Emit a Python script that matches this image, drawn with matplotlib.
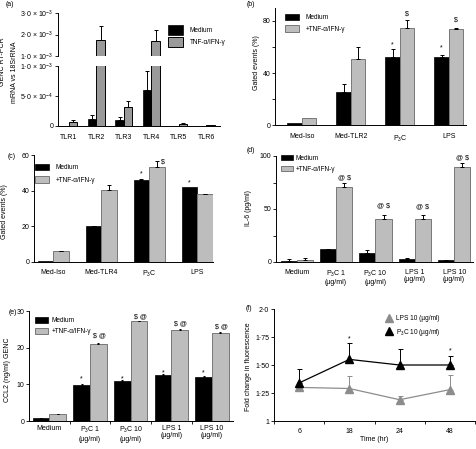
import matplotlib
matplotlib.use("Agg")
import matplotlib.pyplot as plt
import numpy as np
from matplotlib.patches import Patch
from matplotlib.lines import Line2D

plt.rcParams["font.family"] = ["Liberation Sans", "DejaVu Sans"]
plt.rcParams["mathtext.fontset"] = "custom"
plt.rcParams["mathtext.rm"] = "Liberation Sans"
plt.rcParams["mathtext.it"] = "Liberation Sans:italic"
plt.rcParams["font.size"] = 5
plt.rcParams["axes.linewidth"] = 0.7

# ---- (a) TLR mRNA ----
tlr_labels = ["TLR1", "TLR2", "TLR3", "TLR4", "TLR5", "TLR6"]
a_medium = [0.5e-5, 1.1e-4, 0.95e-4, 6.0e-4, 0.2e-5, 0.2e-5]
a_medium_err = [0, 0.8e-4, 0.55e-4, 3.1e-4, 0, 0]
a_tnf = [6.0e-5, 1.75e-3, 3.1e-4, 1.7e-3, 3.8e-5, 1.5e-5]
a_tnf_err = [4.0e-5, 0.64e-3, 1.0e-4, 0.52e-3, 1.7e-5, 0]

# ---- (b) TLR2 flow ----
b_cats = ["Med-Iso", "Med-TLR2", "P$_3$C", "LPS"]
b_medium = [1.8, 25.3, 52, 52]
b_medium_err = [0, 6.4, 6.2, 1.8]
b_tnf = [5.1, 50.4, 74.3, 73.8]
b_tnf_err = [0, 9.9, 6.2, 0.5]

# ---- (c) TLR4 flow ----
c_cats = ["Med-Iso", "Med-TLR4", "P$_3$C", "LPS"]
c_medium = [0.8, 20, 46, 41.8]
c_medium_err = [0, 0.3, 0.5, 0]
c_tnf = [6, 40.3, 53, 38]
c_tnf_err = [0.3, 2.8, 3.6, 0.4]

# ---- (d) IL-6 ----
dose_cats = ["Medium", "P$_3$C 1\n(µg/ml)", "P$_3$C 10\n(µg/ml)",
             "LPS 1\n(µg/ml)", "LPS 10\n(µg/ml)"]
d_medium = [0.6, 12, 8.8, 2.5, 1.6]
d_medium_err = [2.4, 0.5, 2.2, 1.3, 0.6]
d_tnf = [1.6, 71, 41, 41, 89.3]
d_tnf_err = [2.4, 4, 3, 3.8, 3.7]

# ---- (e) CCL2 ----
e_medium = [0.8, 9.7, 11, 12.5, 12.1]
e_medium_err = [0.1, 0.3, 0.3, 0.3, 0.3]
e_tnf = [1.8, 20.9, 27.2, 24.7, 24.1]
e_tnf_err = [0.2, 0.4, 0.2, 0.3, 0.3]

# ---- (f) time course ----
f_times = ["6", "18", "24", "48"]
f_lps = [1.30, 1.29, 1.19, 1.28]
f_lps_err = [0.05, 0.11, 0.03, 0.13]
f_p3c = [1.34, 1.55, 1.50, 1.50]
f_p3c_err = [0.12, 0.15, 0.14, 0.08]

W, H = 476, 449
fig = plt.figure(figsize=(W / 100, H / 100), dpi=100)

LIGHT = "#bdbdbd"
LIGHT_EDGE = "#777777"
LEG_FS = 4.7


def px_axes(x0, y0, x1, y1):
    return fig.add_axes([x0 / W, 1 - y1 / H, (x1 - x0) / W, (y1 - y0) / H])


def style(ax):
    ax.spines[["top", "right"]].set_visible(False)
    ax.tick_params(length=2, width=0.6, pad=1.5, labelsize=5)


def up_err(ax, x, y, err, color="black", cap=1.5):
    x, y, err = np.asarray(x), np.asarray(y), np.asarray(err)
    keep = err > 0
    ax.errorbar(x[keep], y[keep], yerr=[np.zeros(keep.sum()), err[keep]],
                fmt="none", ecolor=color, elinewidth=0.7, capsize=cap, capthick=0.7)


def grouped_bars(ax, medium, medium_err, tnf, tnf_err, width, fc=LIGHT, ec=LIGHT_EDGE,
                 cap=1.5):
    x = np.arange(len(medium))
    ax.bar(x - width / 2, medium, width, color="black", edgecolor="black", linewidth=0.5)
    ax.bar(x + width / 2, tnf, width, color=fc, edgecolor=ec, linewidth=0.7)
    up_err(ax, x - width / 2, medium, medium_err, cap=cap)
    up_err(ax, x + width / 2, tnf, tnf_err, cap=cap)
    return x


def bar_legend(ax, x, y, hl, hh, spacing, labels, fc=LIGHT, ec=LIGHT_EDGE, pad=1.0):
    handles = [Patch(facecolor="black", edgecolor="black", linewidth=0.5),
               Patch(facecolor=fc, edgecolor=ec, linewidth=0.7)]
    ax.legend(handles, labels, loc="upper left",
              bbox_to_anchor=(x / W, 1 - y / H), bbox_transform=fig.transFigure,
              frameon=False, borderpad=0, borderaxespad=0, handlelength=hl,
              handleheight=hh, labelspacing=spacing, handletextpad=pad, fontsize=LEG_FS)


# ================= (a) broken axis =================
wa = 0.31
ax_up = px_axes(58, 13, 220, 56)
ax_lo = px_axes(58, 66, 220, 126)
for ax in (ax_up, ax_lo):
    grouped_bars(ax, a_medium, a_medium_err, a_tnf, a_tnf_err, wa,
                 fc="#9a9a9a", ec="black", cap=1.5)
    ax.set_xlim(-0.4, 5.5)
    style(ax)
ax_up.set_ylim(1e-3, 3e-3)
ax_up.spines["bottom"].set_visible(False)
ax_up.set_xticks([])
ax_up.set_yticks([1e-3, 2e-3, 3e-3])
ax_up.set_yticklabels(["1·0 × 10$^{-3}$", "2·0 × 10$^{-3}$", "3·0 × 10$^{-3}$"])
ax_lo.set_ylim(0, 1e-3)
ax_lo.set_yticks([0, 5e-4, 1e-3])
ax_lo.set_yticklabels(["0", "5·0 × 10$^{-4}$", "1·0 × 10$^{-3}$"])
ax_lo.set_xticks(np.arange(len(tlr_labels)))
ax_lo.set_xticklabels(tlr_labels)
ax_lo.tick_params(axis="x", length=0, pad=6)
bar_legend(ax_up, 168, 25, 2.3, 1.95, 0.3, ["Medium", "TNF-α/IFN-γ"],
           fc="#9a9a9a", ec="black")
fig.text(3 / W, 1 - 62 / H, "GENC RT-PCR", rotation=90, ha="center", va="center")
fig.text(15 / W, 1 - 72 / H, "mRNA vs 18SrRNA", rotation=90, ha="center", va="center")
fig.text(10 / W, 1 - 5 / H, "(a)", ha="center", va="center")

# ================= (b) =================
wb = 0.296
ax_b = px_axes(275, 8, 466, 125)
xb = grouped_bars(ax_b, b_medium, b_medium_err, b_tnf, b_tnf_err, wb)
style(ax_b)
ax_b.set_xlim(-0.55, 3.35)
ax_b.set_ylim(0, 90)
ax_b.set_yticks([0, 40, 80])
ax_b.set_yticks([20, 60], minor=True)
ax_b.tick_params(axis="y", which="minor", length=2, width=0.6)
ax_b.set_xticks(xb)
ax_b.set_xticklabels(b_cats)
ax_b.tick_params(axis="x", length=0, pad=6)
ax_b.text(2 - wb / 2, 62, "*", ha="center", va="center")
ax_b.text(3 - wb / 2, 59, "*", ha="center", va="center")
ax_b.text(2 + wb / 2, 85, r"\$", ha="center", va="center")
ax_b.text(3 + wb / 2, 81, r"\$", ha="center", va="center")
bar_legend(ax_b, 285, 14, 2.2, 1.05, 0.65, ["Medium", "+TNF-α/IFN-γ"])
fig.text(256 / W, 1 - 63 / H, "Gated events (%)", rotation=90, ha="center", va="center")
fig.text(251 / W, 1 - 5 / H, "(b)", ha="center", va="center")

# ================= (c) =================
wc = 0.32
ax_c = px_axes(34, 155, 213, 262)
xc = grouped_bars(ax_c, c_medium, c_medium_err, c_tnf, c_tnf_err, wc)
style(ax_c)
ax_c.set_xlim(-0.4, 3.33)
ax_c.set_ylim(0, 60)
ax_c.set_yticks([0, 20, 40, 60])
ax_c.set_xticks(xc)
ax_c.set_xticklabels(c_cats)
ax_c.tick_params(axis="x", length=0, pad=5)
ax_c.text(2 - wc / 2, 49.5, "*", ha="center", va="center")
ax_c.text(2 + wc / 2 + 0.13, 56, r"\$", ha="center", va="center")
ax_c.text(3 - wc / 2, 44.5, "*", ha="center", va="center")
bar_legend(ax_c, 35, 164, 2.2, 1.05, 0.8, ["Medium", "+TNF-α/IFN-γ"])
fig.text(5 / W, 1 - 212 / H, "Gated events (%)", rotation=90, ha="center", va="center")
fig.text(12 / W, 1 - 156 / H, "(c)", ha="center", va="center")

# ================= (d) =================
wd = 0.41
ax_d = px_axes(276, 156, 473, 262)
xd = grouped_bars(ax_d, d_medium, d_medium_err, d_tnf, d_tnf_err, wd, cap=1.3)
style(ax_d)
ax_d.set_xlim(-0.53, 4.48)
ax_d.set_ylim(0, 100)
ax_d.set_yticks([0, 50, 100])
ax_d.set_yticks([25, 75], minor=True)
ax_d.tick_params(axis="y", which="minor", length=2, width=0.6)
ax_d.set_xticks(xd)
ax_d.set_xticklabels(dose_cats, linespacing=1.05)
ax_d.tick_params(axis="x", length=0, pad=5)
for xi, yi in zip(xd[1:], [79, 53, 52, 98]):
    ax_d.text(xi + wd / 2, yi, r"@ \$", ha="center", va="center")
bar_legend(ax_d, 281, 155, 1.8, 0.9, 0.55, ["Medium", "+TNF-α/IFN-γ"], pad=0.4)
fig.text(248 / W, 1 - 208 / H, "IL-6 (pg/ml)", rotation=90, ha="center", va="center")
fig.text(251 / W, 1 - 151 / H, "(d)", ha="center", va="center")

# ================= (e) =================
we = 0.41
ax_e = px_axes(29, 311, 233, 421)
xe = grouped_bars(ax_e, e_medium, e_medium_err, e_tnf, e_tnf_err, we, cap=1.0)
style(ax_e)
ax_e.set_xlim(-0.5, 4.52)
ax_e.set_ylim(0, 30)
ax_e.set_yticks([0, 10, 20, 30])
ax_e.set_xticks(xe)
ax_e.set_xticklabels(dose_cats, linespacing=1.05)
ax_e.set_xticks(np.arange(len(dose_cats) - 1) + 0.5, minor=True)
ax_e.tick_params(axis="x", which="major", length=0, pad=3)
ax_e.tick_params(axis="x", which="minor", length=2.5, width=0.6)
for xi, yi in zip(xe[1:], [23.2, 28.5, 26.5, 25.8]):
    ax_e.text(xi + we / 2 + 0.03, yi, r"\$ @", ha="center", va="center")
for xi, yi in zip(xe[1:], [11.5, 11.4, 13.2, 13.0]):
    ax_e.text(xi - we / 2, yi, "*", ha="center", va="center")
bar_legend(ax_e, 35, 317, 2.0, 1.05, 0.6, ["Medium", "+TNF-α/IFN-γ"], pad=0.5)
fig.text(8 / W, 1 - 370 / H, "CCL2 (ng/ml) GENC", rotation=90, ha="center", va="center")
fig.text(13 / W, 1 - 312 / H, "(e)", ha="center", va="center")

# ================= (f) =================
ax_f = px_axes(274, 309, 475, 421)
xf = np.arange(len(f_times))
ax_f.plot(xf, f_lps, color="#8c8c8c", linewidth=0.9, marker="^", markersize=5.5,
          markerfacecolor="#8c8c8c", markeredgecolor="#8c8c8c")
up_err(ax_f, xf, f_lps, f_lps_err, color="#8c8c8c", cap=1.8)
ax_f.plot(xf, f_p3c, color="black", linewidth=0.9, marker="^", markersize=5.5)
up_err(ax_f, xf, f_p3c, f_p3c_err, color="black", cap=1.8)
style(ax_f)
ax_f.set_xlim(-0.5, 3.5)
ax_f.set_ylim(1, 2)
ax_f.set_yticks([1, 1.25, 1.5, 1.75, 2.0])
ax_f.set_yticklabels(["1", "1·25", "1·50", "1·75", "2·0"])
ax_f.set_xticks(xf)
ax_f.set_xticklabels(f_times)
ax_f.set_xticks(np.arange(-0.5, 3.6, 1.0), minor=True)
ax_f.tick_params(axis="x", which="major", length=0, pad=5)
ax_f.tick_params(axis="x", which="minor", length=2, width=0.6)
ax_f.set_xlabel("Time (hr)", labelpad=1)
ax_f.text(1, 1.735, "*", ha="center", va="center")
ax_f.text(3, 1.625, "*", ha="center", va="center")
f_handles = [Line2D([], [], linestyle="none", marker="^", markersize=5.5, color="#8c8c8c"),
             Line2D([], [], linestyle="none", marker="^", markersize=5.5, color="black")]
ax_f.legend(f_handles, ["LPS 10 (µg/ml)", "P$_3$C 10 (µg/ml)"], loc="upper left",
            bbox_to_anchor=(386 / W, 1 - 315 / H), bbox_transform=fig.transFigure,
            frameon=False, borderpad=0, borderaxespad=0, handlelength=1.0,
            labelspacing=0.7, handletextpad=0.6, numpoints=1, fontsize=LEG_FS)
fig.text(249 / W, 1 - 367 / H, "Fold change in fluorescence", rotation=90,
         ha="center", va="center")
fig.text(249 / W, 1 - 309 / H, "(f)", ha="center", va="center")

fig.savefig("out.png", dpi=100)
